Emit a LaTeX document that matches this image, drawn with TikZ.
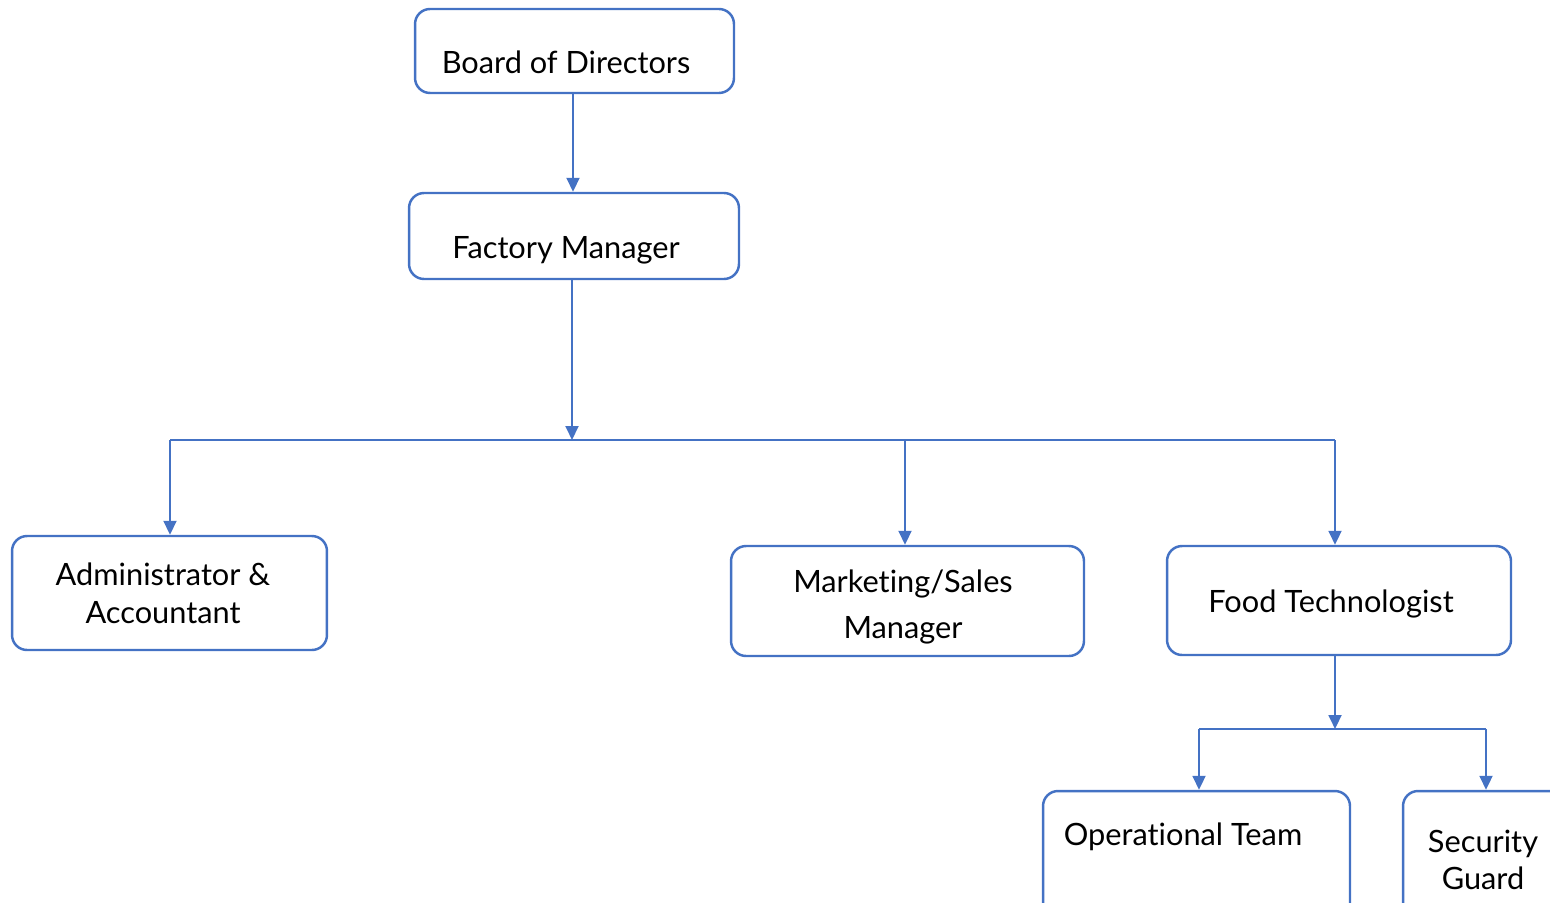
\documentclass[tikz,border=0pt]{standalone}
\usepackage{fontspec}
\setmainfont{Lato}[Ligatures={NoCommon,NoRare,NoDiscretionary}]
\usepackage{xcolor}
\usetikzlibrary{arrows.meta,positioning}
\definecolor{orgblue}{HTML}{4472C4}

\begin{document}
\begin{tikzpicture}[x=0.02cm, y=-0.02cm,
  font=\fontsize{17.5}{21.5}\selectfont,
  box/.style={rectangle, rounded corners=0.3cm, draw=orgblue, line width=1.4pt, fill=white, inner sep=0pt},
  txt/.style={align=center, inner sep=0pt, text=black},
  ar/.style={-{Triangle[length=2.8mm, width=2.6mm]}, line width=1.1pt, orgblue},
  ln/.style={line width=1.1pt, orgblue}]
  \useasboundingbox (0,0) rectangle (1550,902);
  \clip (0,0) rectangle (1550,902);
  \node[box, minimum width=6.38cm, minimum height=1.68cm] (board) at (574.5,51) {};
  \node[txt, anchor=base] (boardtxt) at (566,74) {Board of Directors};
  \node[box, minimum width=6.6cm, minimum height=1.72cm] (factory) at (574,236) {};
  \node[txt, anchor=base] (factorytxt) at (566,258) {Factory Manager};
  \node[box, minimum width=6.3cm, minimum height=2.28cm] (admin) at (169.5,593) {};
  \node[txt] (admintxt) at (163,593) {Administrator \&\\Accountant};
  \node[box, minimum width=7.06cm, minimum height=2.2cm] (mkt) at (907.5,601) {};
  \node[txt, font=\fontsize{17.5}{26}\selectfont] (mkttxt) at (903,607) {Marketing/Sales\\Manager};
  \node[box, minimum width=6.88cm, minimum height=2.18cm] (food) at (1339,600.5) {};
  \node[txt, anchor=base] (foodtxt) at (1331,612) {Food Technologist};
  \node[box, minimum width=6.14cm, minimum height=3cm] (oper) at (1196.5,866) {};
  \node[txt, anchor=base] (opertxt) at (1183,845) {Operational Team};
  \node[box, minimum width=3.2cm, minimum height=3cm] (sec) at (1483,866) {};
  \node[txt] (sectxt) at (1483,860) {Security\\Guard};
  \coordinate (busc) at (572,440);
  \coordinate (busl) at (170,440);
  \coordinate (busm) at (905,440);
  \coordinate (busr) at (1335,440);
  \coordinate (subc) at (1335,729);
  \coordinate (subl) at (1199,729);
  \coordinate (subr) at (1486,729);
  \draw[ar] (board.south -| 573,0) -- (factory.north -| 573,0);
  \draw[ar] (factory.south -| busc) -- (busc);
  \draw[ln] (busl) -- (busr);
  \draw[ar] (busl) -- (busl |- admin.north);
  \draw[ar] (busm) -- (busm |- mkt.north);
  \draw[ar] (busr) -- (busr |- food.north);
  \draw[ar] (food.south -| subc) -- (subc);
  \draw[ln] (subl) -- (subr);
  \draw[ar] (subl) -- (subl |- oper.north);
  \draw[ar] (subr) -- (subr |- sec.north);
\end{tikzpicture}
\end{document}
